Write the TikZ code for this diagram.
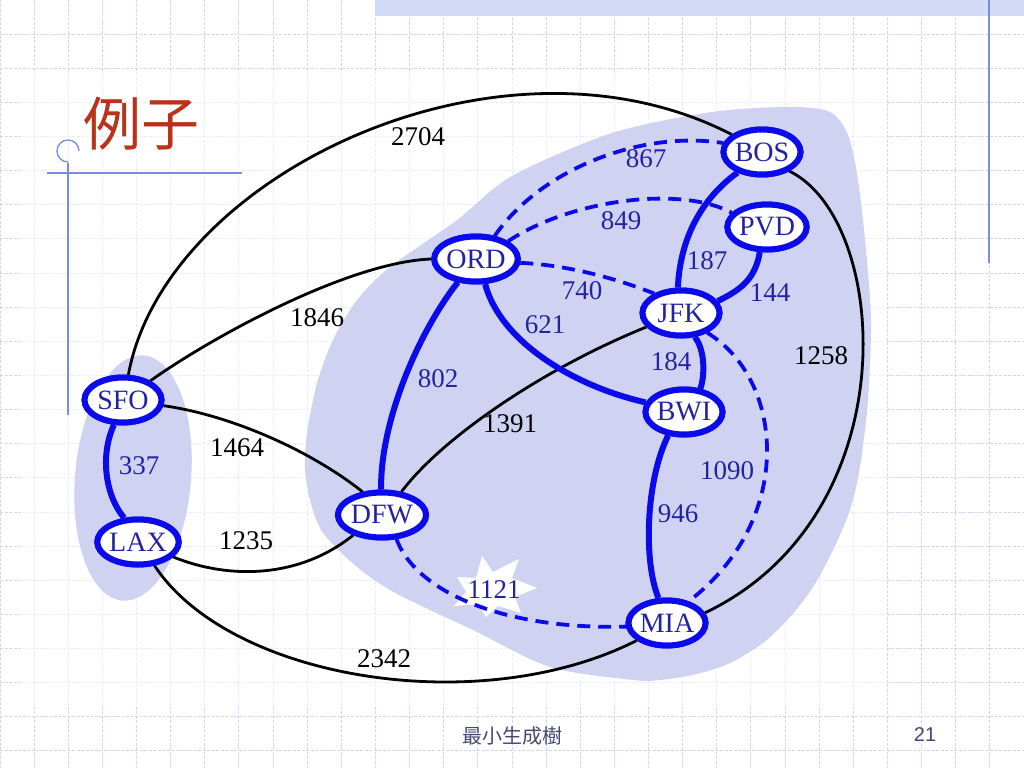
\documentclass[tikz,border=0pt]{standalone}
\usepackage{fontspec}
\setmainfont{Liberation Serif}
\newfontfamily\cjk{Noto Sans CJK TC}
\newfontfamily\sansf{Liberation Sans}
\usetikzlibrary{shapes.geometric}
\definecolor{gridc}{RGB}{208,213,242}
\definecolor{blobc}{RGB}{208,210,242}
\definecolor{lineblue}{RGB}{10,10,235}
\definecolor{txtblue}{RGB}{35,35,160}
\definecolor{deco}{RGB}{120,140,225}
\definecolor{titlec}{RGB}{185,50,25}
\definecolor{bandc}{RGB}{210,218,246}
\definecolor{footc}{RGB}{70,70,115}
\begin{document}
\begin{tikzpicture}[x=1pt,y=-1pt,
  gridl/.style={gridc, line width=1pt, dash pattern=on 3pt off 1.5pt},
  city/.style={ellipse, draw=lineblue, line width=6pt, fill=white, minimum width=77pt, minimum height=45pt, inner sep=0pt, font=\fontsize{28}{28}\selectfont, text=txtblue},
  wt/.style={font=\fontsize{27}{27}\selectfont, text=black, inner sep=0pt},
  bt/.style={font=\fontsize{27}{27}\selectfont, text=txtblue, inner sep=0pt},
  blk/.style={line width=2.8pt, black},
  tree/.style={line width=6pt, lineblue},
  dsh/.style={line width=3.8pt, lineblue, dash pattern=on 13pt off 8pt},
]
\useasboundingbox (0,0) rectangle (1024,768);
\fill[white] (0,0) rectangle (1024,768);
% slide grid
\foreach \i in {0,...,30} \draw[gridl] ({\i*34.1333},0) -- ({\i*34.1333},768);
\foreach \j in {0,...,22} \draw[gridl] (0,{\j*34.1333}) -- (1024,{\j*34.1333});
% embedded picture area (grid shows faintly)
\fill[white, opacity=0.55] (22,72) rectangle (887,705);
% top band and decorations
\fill[bandc] (375,0) rectangle (1024,16);
\draw[deco, line width=1.5pt] (989,0) -- (989,263);
\draw[deco, line width=1.3pt] (47,173) -- (242,173);
\draw[deco, line width=1.3pt] (68,163) -- (68,415);
\draw[deco, line width=1.3pt] (68,162) arc[start angle=-90, end angle=-360, radius=11pt];
% title
\node[font=\cjk\fontsize{58}{58}\selectfont, text=titlec, inner sep=0pt] (title) at (141,124) {例子};
% shaded regions
\fill[blobc, rotate around={-5:(133,478)}] (133,478) ellipse[x radius=58pt, y radius=123pt];
\fill[blobc] plot[smooth cycle, tension=0.5] coordinates {
 (305,467) (307,433) (317,383) (333,340) (357,300) (390,267) (457,220) (512,176)
 (612,133) (712,112) (790,107) (830,112) (848,135) (858,180) (866,250) (871,320)
 (868,400) (860,467) (850,510) (833,550) (813,587) (790,617) (763,643) (730,663)
 (697,674) (660,680) (633,680) (550,667) (473,630) (430,610) (390,590) (357,567)
 (323,533) (310,500)};
% white star behind 1121
\fill[white] (482,556) -- (493,572) -- (519,559) -- (512,578) -- (537,588) -- (515,597)
 -- (521,613) -- (498,606) -- (486,617) -- (478,604) -- (454,606) -- (466,592)
 -- (457,577) -- (476,578) -- cycle;
% city nodes
\node[city] (sfo) at (123,400) {SFO};
\node[city] (lax) at (138,542) {LAX};
\node[city] (ord) at (476,259) {ORD};
\node[city] (dfw) at (382,515) {DFW};
\node[city] (bos) at (762,152) {BOS};
\node[city] (pvd) at (767,227) {PVD};
\node[city] (jfk) at (681,313) {JFK};
\node[city] (bwi) at (684,412) {BWI};
\node[city] (mia) at (667,623) {MIA};
% black edges
\draw[blk] (sfo.78) .. controls (165,175) and (500,15) .. (bos.150);
\draw[blk] (sfo.35) .. controls (215,335) and (350,262) .. (ord.180);
\draw[blk] (sfo.-8) .. controls (230,415) and (310,450) .. (dfw.130);
\draw[blk] (lax.-23) .. controls (230,580) and (300,578) .. (dfw.-145);
\draw[blk] (lax.-55) .. controls (230,680) and (480,720) .. (mia.-150);
\draw[blk] (dfw.50) .. controls (440,440) and (540,370) .. (jfk.-158);
\draw[blk] (bos.-35) .. controls (890,220) and (910,515) .. (mia.15);
% tree edges
\draw[tree] (sfo.-110) .. controls (100,455) and (105,495) .. (lax.120);
\draw[tree] (ord.-128) .. controls (420,330) and (380,420) .. (dfw.92);
\draw[tree] (ord.-70) .. controls (500,340) and (570,385) .. (bwi.166);
\draw[tree] (bos.-140) .. controls (700,200) and (680,240) .. (jfk.97);
\draw[tree] (pvd.-106) .. controls (755,280) and (740,290) .. (jfk.18);
\draw[tree] (jfk.-60) .. controls (705,350) and (705,375) .. (bwi.55);
\draw[tree] (bwi.-124) .. controls (646,480) and (643,560) .. (mia.109);
% dashed edges
\draw[dsh] (ord.51) .. controls (540,170) and (640,130) .. (bos.167);
\draw[dsh] (ord.29) .. controls (570,200) and (680,185) .. (pvd.158);
\draw[dsh] (ord.-5) .. controls (570,265) and (620,280) .. (jfk.144);
\draw[dsh] (jfk.-37) .. controls (785,380) and (795,520) .. (mia.45);
\draw[dsh] (dfw.-59) .. controls (415,590) and (500,630) .. (mia.185);
% redraw nodes on top of the connector ends
\node[city] at (sfo) {SFO};
\node[city] at (lax) {LAX};
\node[city] at (ord) {ORD};
\node[city] at (dfw) {DFW};
\node[city] at (bos) {BOS};
\node[city] at (pvd) {PVD};
\node[city] at (jfk) {JFK};
\node[city] at (bwi) {BWI};
\node[city] at (mia) {MIA};
% labels
\node[wt] (l2704) at (418,137) {2704};
\node[wt] (l1846) at (317,318) {1846};
\node[wt] (l1464) at (237,448) {1464};
\node[wt] (l1235) at (246,541) {1235};
\node[wt] (l2342) at (384,659) {2342};
\node[wt] (l1391) at (510,424) {1391};
\node[wt] (l1258) at (821,356) {1258};
\node[bt] (l337) at (139,466) {337};
\node[bt] (l802) at (438,379) {802};
\node[bt] (l621) at (545,325) {621};
\node[bt] (l187) at (707,261) {187};
\node[bt] (l144) at (770,293) {144};
\node[bt] (l184) at (671,362) {184};
\node[bt] (l946) at (678,514) {946};
\node[bt] (l867) at (646,159) {867};
\node[bt] (l849) at (621,221) {849};
\node[bt] (l740) at (582,291) {740};
\node[bt] (l1090) at (727,471) {1090};
\node[bt] (l1121) at (494,590) {1121};
% footer
\node[font=\cjk\fontsize{20}{20}\selectfont, text=footc, inner sep=0pt] (foot) at (512,736) {最小生成樹};
\node[font=\sansf\fontsize{20}{20}\selectfont, text=footc, inner sep=0pt] (page) at (925,735) {21};
\end{tikzpicture}
\end{document}
